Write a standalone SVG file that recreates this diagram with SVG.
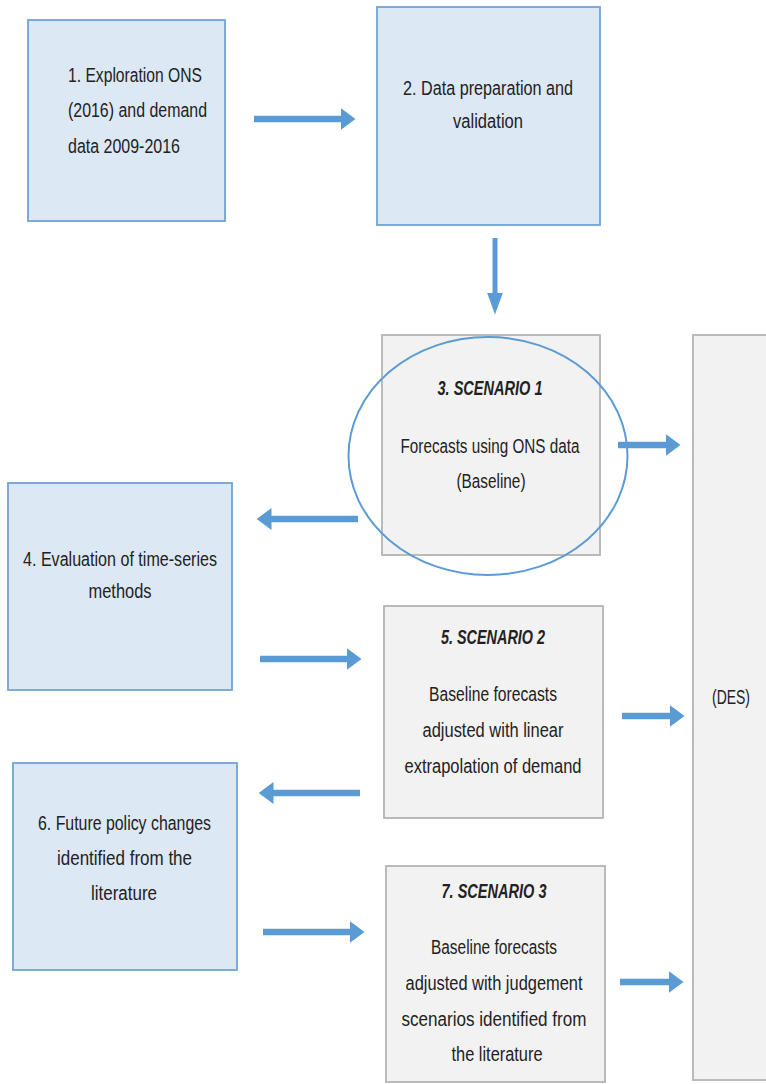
<svg xmlns="http://www.w3.org/2000/svg" width="766" height="1084" viewBox="0 0 766 1084">
<style>
.blue{fill:#dde8f5;stroke:#70a3d8;stroke-width:1.8}
.grey{fill:#f2f2f2;stroke:#b4b4b4;stroke-width:1.8}
.t{font-family:"Liberation Sans Narrow","Liberation Sans",Arial,sans-serif;font-size:20px;fill:#222}
.c{text-anchor:middle}
.b{font-weight:bold;font-style:italic}
.arr{stroke:#5b9bd5;stroke-width:6.5;fill:none;marker-end:url(#ah)}
.arrv{stroke:#5b9bd5;stroke-width:5;fill:none;marker-end:url(#ahv)}
</style>
<defs>
<marker id="ah" viewBox="0 0 15 22" refX="0.5" refY="11" markerWidth="15" markerHeight="22" markerUnits="userSpaceOnUse" orient="auto">
<path d="M0,0 L15,11 L0,22 z" fill="#5b9bd5"/>
</marker>
<marker id="ahv" viewBox="0 0 22 16" refX="0.5" refY="8" markerWidth="22" markerHeight="16" markerUnits="userSpaceOnUse" orient="auto">
<path d="M0,0 L22,8 L0,16 z" fill="#5b9bd5"/>
</marker>
</defs>
<rect width="766" height="1084" fill="#fff"/>
<g id="connectors">
<line class="arr" x1="254" y1="119" x2="341" y2="119"/>
<line class="arrv" x1="495" y1="238" x2="495" y2="293"/>
<line class="arr" x1="618" y1="445" x2="666" y2="445"/>
<line class="arr" x1="358" y1="519" x2="271" y2="519"/>
<line class="arr" x1="260" y1="659" x2="347" y2="659"/>
<line class="arr" x1="622" y1="716" x2="670" y2="716"/>
<line class="arr" x1="360" y1="793" x2="273" y2="793"/>
<line class="arr" x1="263" y1="932" x2="350" y2="932"/>
<line class="arr" x1="620" y1="982" x2="669" y2="982"/>
</g>
<g id="node1">
<rect class="blue" x="28" y="20" width="197" height="201"/>
<text class="t" x="68" y="82" textLength="134" lengthAdjust="spacingAndGlyphs">1. Exploration ONS</text>
<text class="t" x="68" y="117" textLength="139" lengthAdjust="spacingAndGlyphs">(2016) and demand</text>
<text class="t" x="68" y="153" textLength="112" lengthAdjust="spacingAndGlyphs">data 2009-2016</text>
</g>
<g id="node2">
<rect class="blue" x="377" y="7" width="223" height="218"/>
<text class="t c" x="488" y="95" textLength="170" lengthAdjust="spacingAndGlyphs">2. Data preparation and</text>
<text class="t c" x="488" y="128" textLength="70" lengthAdjust="spacingAndGlyphs">validation</text>
</g>
<g id="node3">
<rect class="grey" x="382" y="335" width="218" height="220"/>
<text class="t c b" x="490" y="395" textLength="105" lengthAdjust="spacingAndGlyphs">3. SCENARIO 1</text>
<text class="t c" x="490" y="453" textLength="179" lengthAdjust="spacingAndGlyphs">Forecasts using ONS data</text>
<text class="t c" x="491" y="488" textLength="69" lengthAdjust="spacingAndGlyphs">(Baseline)</text>
<ellipse cx="488" cy="456" rx="139.5" ry="119" fill="none" stroke="#5b9bd5" stroke-width="2"/>
</g>
<g id="node4">
<rect class="blue" x="8" y="483" width="224" height="207"/>
<text class="t c" x="120" y="566" textLength="194" lengthAdjust="spacingAndGlyphs">4. Evaluation of time-series</text>
<text class="t c" x="120" y="598" textLength="63" lengthAdjust="spacingAndGlyphs">methods</text>
</g>
<g id="node5">
<rect class="grey" x="384" y="606" width="219" height="212"/>
<text class="t c b" x="493" y="644" textLength="104" lengthAdjust="spacingAndGlyphs">5. SCENARIO 2</text>
<text class="t c" x="493" y="701" textLength="128" lengthAdjust="spacingAndGlyphs">Baseline forecasts</text>
<text class="t c" x="493" y="737" textLength="141" lengthAdjust="spacingAndGlyphs">adjusted with linear</text>
<text class="t c" x="493" y="773" textLength="177" lengthAdjust="spacingAndGlyphs">extrapolation of demand</text>
</g>
<g id="node6">
<rect class="blue" x="13" y="763" width="224" height="207"/>
<text class="t c" x="124.5" y="830" textLength="173" lengthAdjust="spacingAndGlyphs">6. Future policy changes</text>
<text class="t c" x="124.5" y="865" textLength="135" lengthAdjust="spacingAndGlyphs">identified from the</text>
<text class="t c" x="124" y="900" textLength="66" lengthAdjust="spacingAndGlyphs">literature</text>
</g>
<g id="node7">
<rect class="grey" x="386" y="866" width="219" height="216"/>
<text class="t c b" x="494" y="898" textLength="105" lengthAdjust="spacingAndGlyphs">7. SCENARIO 3</text>
<text class="t c" x="494" y="954" textLength="126" lengthAdjust="spacingAndGlyphs">Baseline forecasts</text>
<text class="t c" x="494" y="990" textLength="177" lengthAdjust="spacingAndGlyphs">adjusted with judgement</text>
<text class="t c" x="494" y="1026" textLength="185" lengthAdjust="spacingAndGlyphs">scenarios identified from</text>
<text class="t c" x="497" y="1061" textLength="91" lengthAdjust="spacingAndGlyphs">the literature</text>
</g>
<g id="node8">
<rect class="grey" x="693" y="335" width="90" height="745"/>
<text class="t c" x="731" y="704" textLength="38" lengthAdjust="spacingAndGlyphs">(DES)</text>
</g>
</svg>
